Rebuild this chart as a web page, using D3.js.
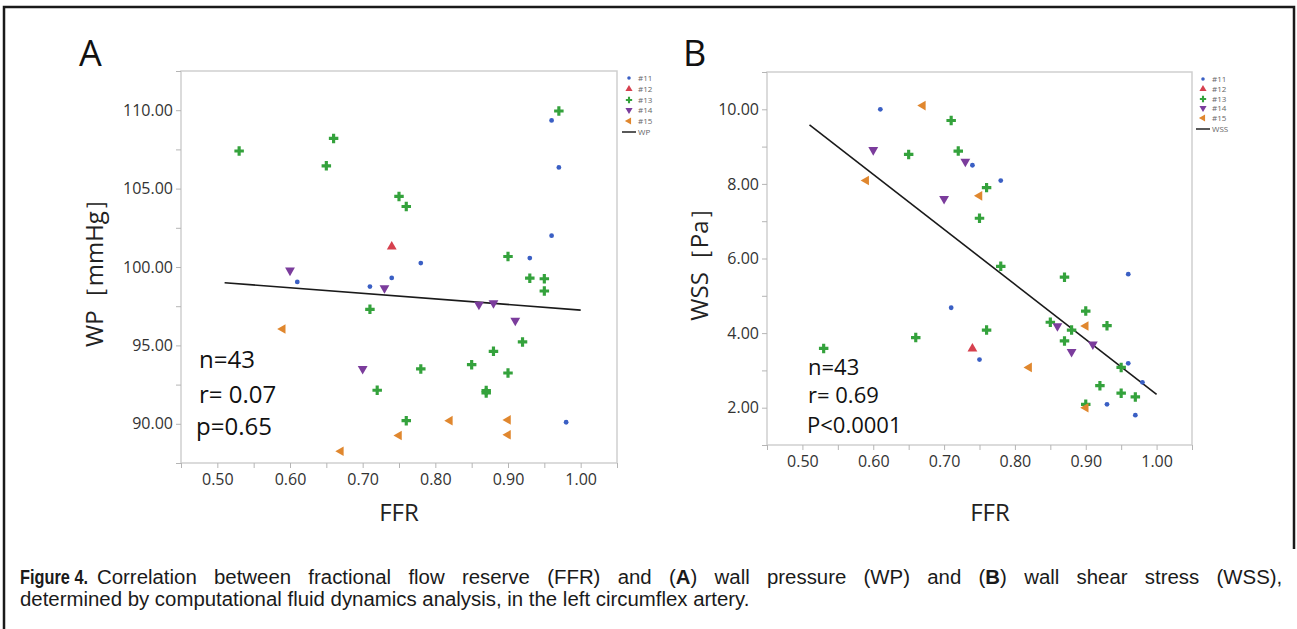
<!DOCTYPE html>
<html><head><meta charset="utf-8">
<script src="https://cdn.jsdelivr.net/npm/d3@7"></script>
<style>body{margin:0;background:#fff} svg{display:block}</style>
</head><body>
<svg id="c" width="1297" height="629"></svg>
<script>
const groups = ["#11","#12","#13","#14","#15"];
const groupColors = ["#3a5fc4","#d6404e","#34a23c","#7b3c9c","#e0872e"];
const xTicks = [0.5,0.6,0.7,0.8,0.9,1.0];
const xMinor = [0.45,0.55,0.65,0.75,0.85,0.95,1.05];
const yTicksA = [90,95,100,105,110];
const yMinorA = [87.5,92.5,97.5,102.5,107.5,112.5];
const yTicksB = [2,4,6,8,10];
const yMinorB = [1,3,5,7,9,11];

// Panel A : FFR vs WP
const a_ffr11 = [0.61,0.71,0.74,0.78,0.93,0.96,0.96,0.97,0.98];
const a_wp11  = [99.05,98.75,99.3,100.25,100.57,102.0,109.35,106.35,90.1];
const a_ffr12 = [0.74];
const a_wp12  = [101.3];
const a_ffr13 = [0.53,0.65,0.66,0.75,0.76,0.71,0.72,0.76,0.78,0.85,0.87,0.87,0.88,0.90,0.90,0.92,0.93,0.95,0.95,0.97];
const a_wp13  = [107.4,106.45,108.2,104.5,103.86,97.3,92.14,90.2,93.5,93.77,92.12,91.97,94.62,100.67,93.24,95.22,99.29,99.25,98.47,109.95];
const a_ffr14 = [0.60,0.70,0.73,0.86,0.88,0.91];
const a_wp14  = [99.78,93.5,98.65,97.6,97.7,96.58];
const a_ffr15 = [0.59,0.67,0.75,0.82,0.90,0.90];
const a_wp15  = [96.05,88.25,89.25,90.2,90.25,89.3];
const a_fitX = [0.51,1.0];
const a_fitY = [99.0,97.25];
const a_stats = ["n=43","r= 0.07","p=0.65"];

// Panel B : FFR vs WSS
const b_ffr11 = [0.61,0.74,0.78,0.96,0.71,0.75,0.96,0.98,0.93,0.97];
const b_wss11 = [10.0,8.5,8.09,5.58,4.68,3.29,3.19,2.68,2.09,1.8];
const b_ffr12 = [0.74];
const b_wss12 = [3.58];
const b_ffr13 = [0.71,0.65,0.72,0.76,0.75,0.78,0.87,0.90,0.85,0.93,0.88,0.76,0.87,0.95,0.92,0.95,0.97,0.90,0.66,0.53];
const b_wss13 = [9.7,8.79,8.88,7.9,7.08,5.79,5.5,4.59,4.29,4.2,4.08,4.08,3.79,3.08,2.59,2.39,2.29,2.09,3.88,3.59];
const b_ffr14 = [0.60,0.73,0.70,0.86,0.91,0.88];
const b_wss14 = [8.91,8.6,7.6,4.19,3.70,3.5];
const b_ffr15 = [0.67,0.59,0.75,0.90,0.82,0.90];
const b_wss15 = [10.1,8.09,7.68,4.19,3.08,2.0];
const b_fitX = [0.51,1.0];
const b_fitY = [9.58,2.36];
const b_stats = ["n=43","r= 0.69","P<0.0001"];

const svg = d3.select("#c");
const FONT = "'Open Sans', 'Liberation Sans', sans-serif";

// outer frame
svg.append("path").attr("d","M4,629 L4,7 L1294,7 L1294,549")
  .attr("fill","none").attr("stroke","#1a1a1a").attr("stroke-width",2.5);

const symbols = [
  d3.symbol().type(d3.symbolCircle).size(18),
  d3.symbol().type(d3.symbolTriangle).size(42),
  d3.symbol().type(d3.symbolCross).size(50),
  d3.symbol().type(d3.symbolTriangle).size(42),
  d3.symbol().type(d3.symbolTriangle).size(40)
];
const rotations = [0,0,0,180,-90];

function panel(cfg){
  const x = d3.scaleLinear().domain([0.45,1.05]).range([cfg.x0,cfg.x1]);
  const y = d3.scaleLinear().domain(cfg.yDomain).range([cfg.y1,cfg.y0]);
  const g = svg.append("g");
  g.append("rect").attr("x",cfg.x0).attr("y",cfg.y0).attr("width",cfg.x1-cfg.x0).attr("height",cfg.y1-cfg.y0)
    .attr("fill","#fff").attr("stroke","#cfcfcf").attr("stroke-width",1.5);
  const fmt = d3.format(".2f");
  const styleAxis = sel => { sel.select(".domain").remove(); sel.selectAll("line").attr("stroke","#b5b5b5");
    sel.selectAll("text").attr("fill","#333").style("font-family",FONT).style("font-size","16px"); };
  g.append("g").attr("transform",`translate(0,${cfg.y1})`)
    .call(d3.axisBottom(x).tickValues(xTicks).tickFormat(fmt).tickSize(5).tickPadding(6)).call(styleAxis);
  g.append("g").attr("transform",`translate(0,${cfg.y1})`)
    .call(d3.axisBottom(x).tickValues(xMinor).tickFormat("").tickSize(5)).call(styleAxis);
  g.append("g").attr("transform",`translate(${cfg.x0},0)`)
    .call(d3.axisLeft(y).tickValues(cfg.yTicks).tickFormat(fmt).tickSize(5).tickPadding(3)).call(styleAxis);
  g.append("g").attr("transform",`translate(${cfg.x0},0)`)
    .call(d3.axisLeft(y).tickValues(cfg.yMinor).tickFormat("").tickSize(5)).call(styleAxis);

  g.append("line").attr("x1",x(cfg.fitX[0])).attr("y1",y(cfg.fitY[0]))
    .attr("x2",x(cfg.fitX[1])).attr("y2",y(cfg.fitY[1]))
    .attr("stroke","#1a1a1a").attr("stroke-width",1.6);

  cfg.series.forEach((s,i)=>{
    g.append("g").selectAll("path").data(s[0].map((v,k)=>[v,s[1][k]])).join("path")
      .attr("d",symbols[i]())
      .attr("transform",d=>`translate(${x(d[0])},${y(d[1])}) rotate(${rotations[i]})`)
      .attr("fill",groupColors[i]);
  });

  cfg.stats.forEach((t,i)=>{
    g.append("text").attr("x",cfg.statX[i]).attr("y",cfg.statY[i]).text(t)
      .style("font-family",FONT).style("font-size",cfg.statSize+"px").attr("fill","#111");
  });

  g.append("text").attr("x",cfg.xTitleX).attr("y",521).attr("text-anchor","middle").text("FFR")
    .style("font-family",FONT).style("font-size","24px").attr("fill","#222");
  g.append("text").attr("transform",`translate(${cfg.yTitleX},${(cfg.y0+cfg.y1)/2}) rotate(-90)`)
    .attr("text-anchor","middle").text(cfg.yTitle)
    .style("font-family",FONT).style("font-size","24px").attr("fill","#222");
  g.append("text").attr("x",cfg.letterX).attr("y",66).text(cfg.letter)
    .style("font-family",FONT).style("font-size","36px").attr("fill","#111");

  const lg = g.append("g");
  groups.forEach((name,i)=>{
    lg.append("path").attr("d",d3.symbol().type(symbols[i].type()).size(i===0?10:22)())
      .attr("transform",`translate(${cfg.legX},${cfg.legY[i]}) rotate(${rotations[i]})`).attr("fill",groupColors[i]);
    lg.append("text").attr("x",cfg.legX+9).attr("y",cfg.legY[i]+3).text(name)
      .style("font-family",FONT).style("font-size","8px").attr("fill","#666");
  });
  lg.append("line").attr("x1",cfg.legX-7).attr("x2",cfg.legX+7).attr("y1",cfg.legY[5]).attr("y2",cfg.legY[5])
    .attr("stroke","#222").attr("stroke-width",1.5);
  lg.append("text").attr("x",cfg.legX+9).attr("y",cfg.legY[5]+3).text(cfg.legLine)
    .style("font-family",FONT).style("font-size","8px").attr("fill","#666");
}

panel({x0:181,x1:617,y0:71,y1:463,yDomain:[87.5,112.5],yTicks:yTicksA,yMinor:yMinorA,
  series:[[a_ffr11,a_wp11],[a_ffr12,a_wp12],[a_ffr13,a_wp13],[a_ffr14,a_wp14],[a_ffr15,a_wp15]],
  fitX:a_fitX,fitY:a_fitY,stats:a_stats,statX:[199,199,196],statY:[368,403,435],statSize:24,
  xTitleX:399,yTitleX:103,yTitle:"WP［mmHg］",letter:"A",letterX:79,
  legX:629,legY:[78,89,100,110,121,132],legLine:"WP"});
panel({x0:767,x1:1192,y0:72,y1:445,yDomain:[1,11],yTicks:yTicksB,yMinor:yMinorB,
  series:[[b_ffr11,b_wss11],[b_ffr12,b_wss12],[b_ffr13,b_wss13],[b_ffr14,b_wss14],[b_ffr15,b_wss15]],
  fitX:b_fitX,fitY:b_fitY,stats:b_stats,statX:[808,808,807],statY:[375,403,433],statSize:22,
  xTitleX:990,yTitleX:708,yTitle:"WSS［Pa］",letter:"B",letterX:683,
  legX:1203,legY:[79,89,99,108,118,129],legLine:"WSS"});

// caption: condensed glyphs (same scale both lines), first line justified
const CAP = "'Liberation Sans', Arial, sans-serif";
const CAPSIZE = 20;
function makeLine(parts){
  const gg = svg.append("g");
  const t = gg.append("text").attr("x",0).attr("y",0).style("font-family",CAP).style("font-size",CAPSIZE+"px").attr("fill","#1a1a1a");
  parts.forEach(p=>t.append("tspan").text(p[0]).attr("font-weight",p[1]?"bold":"normal"));
  return {gg, t, w: t.node().getComputedTextLength()};
}
const l2 = makeLine([["determined by computational fluid dynamics analysis, in the left circumflex artery.",false]]);
const sx = 730 / l2.w;
l2.gg.attr("transform",`translate(20,606) scale(${sx},1)`);
const l1parts = [["Correlation between fractional flow reserve (FFR) and (",false],["A",true],[") wall pressure (WP) and (",false],["B",true],[") wall shear stress (WSS),",false]];
const l1 = makeLine(l1parts);
const nSpaces = l1parts.map(p=>p[0]).join("").split(" ").length - 1;
l1.t.style("word-spacing", Math.max(0,(1186/sx - l1.w)/nSpaces) + "px");
l1.gg.attr("transform",`translate(97,584) scale(${sx},1)`);
const lf = makeLine([["Figure 4.",true]]);
lf.gg.attr("transform",`translate(20,584) scale(${68/lf.w},1)`);
</script>
</body></html>
